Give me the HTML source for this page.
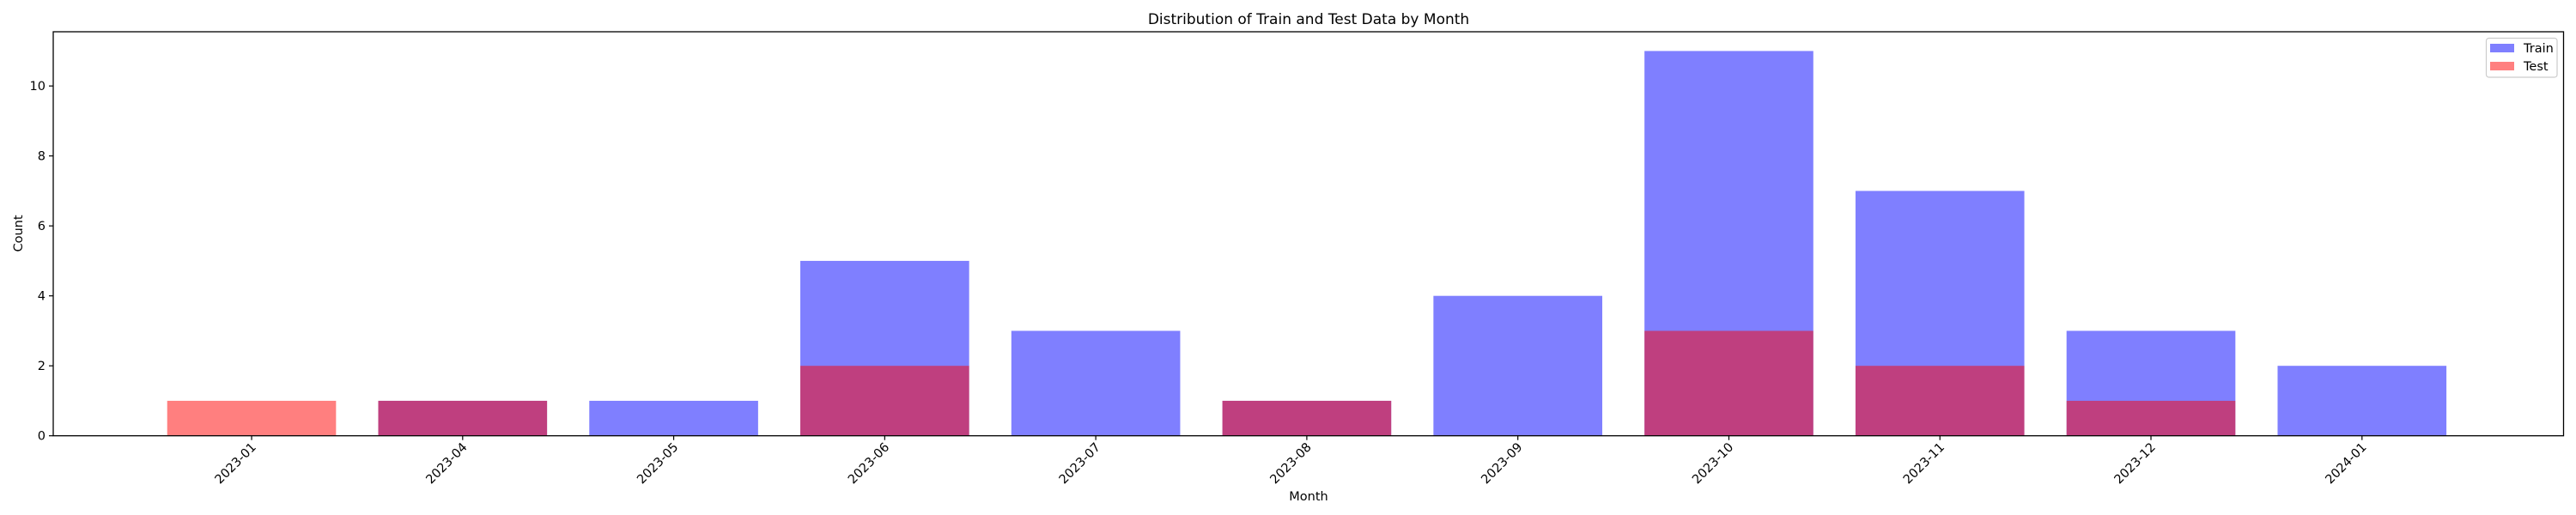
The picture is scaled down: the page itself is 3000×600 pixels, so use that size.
<!DOCTYPE html>
<html><head><meta charset="utf-8"><style>
body{margin:0;background:#fff;}
svg{display:block;font-family:"DejaVu Sans","Liberation Sans",sans-serif;}
</style></head><body>
<svg id="chart" width="3000" height="600" xmlns="http://www.w3.org/2000/svg">
<rect width="3000" height="600" fill="#fff"/>
<text x="1524" y="28" font-size="17" text-anchor="middle">Distribution of Train and Test Data by Month</text>
<text x="1524" y="583" font-size="14.5" text-anchor="middle">Month</text>
<text transform="translate(26,272) rotate(-90)" font-size="14.5" text-anchor="middle">Count</text>
<g id="bars"></g>
<g id="axes"></g>
<rect x="62" y="37" width="2923.5" height="470.7" fill="none" stroke="#000" stroke-width="1.3"/>
<g>
<rect x="2895.5" y="44.5" width="82.5" height="45.5" rx="3" fill="#fff" stroke="#ccc" stroke-width="1.2"/>
<rect x="2900" y="51" width="28" height="10" fill="#0000ff" fill-opacity="0.5"/>
<text x="2939" y="61" font-size="14.5">Train</text>
<rect x="2900" y="72" width="28" height="10" fill="#ff0000" fill-opacity="0.5"/>
<text x="2939" y="82" font-size="14.5">Test</text>
</g>
</svg>
<script>
const categories = ["2023-01","2023-04","2023-05","2023-06","2023-07","2023-08","2023-09","2023-10","2023-11","2023-12","2024-01"];
const trainValues = [0,1,1,5,3,1,4,11,7,3,2];
const testValues = [1,1,0,2,0,1,0,3,2,1,0];
const yTicks = [0,2,4,6,8,10];

const NS="http://www.w3.org/2000/svg";
const L=62,R=2985.5,T=37,B=507.7;
const xMin=-0.94,xMax=10.955;
const yMax=Math.max(...trainValues,...testValues)*1.05;
function xS(v){return L+(v-xMin)/(xMax-xMin)*(R-L);}
function yS(v){return B-v/yMax*(B-T);}
const bars=document.getElementById('bars'),axes=document.getElementById('axes');
function mk(tag,attrs,parent){const e=document.createElementNS(NS,tag);for(const k in attrs)e.setAttribute(k,attrs[k]);parent.appendChild(e);return e;}
function drawSeries(vals,color,name){
  vals.forEach((v,i)=>{
    if(v<=0)return;
    const x0=xS(i-0.4),x1=xS(i+0.4);
    const r=mk('rect',{x:x0,y:yS(v),width:x1-x0,height:B-yS(v),fill:color,'fill-opacity':0.5},bars);
    
    
  });
}
drawSeries(trainValues,'#0000ff','train');
drawSeries(testValues,'#ff0000','test');
yTicks.forEach(t=>{
  const y=yS(t);
  const l=mk('line',{x1:L-5,x2:L,y1:y,y2:y,stroke:'#000','stroke-width':1.2},axes);
  
  
  const tx=mk('text',{x:L-9,y:y+5,'font-size':14.5,'text-anchor':'end'},axes);
  tx.textContent=t;
  
  
});
categories.forEach((c,i)=>{
  const x=xS(i);
  const l=mk('line',{x1:x,x2:x,y1:B,y2:B+5,stroke:'#000','stroke-width':1.2},axes);
  
  
  const tx=mk('text',{transform:`translate(${x+6},${B+14}) rotate(-45)`,'font-size':14.5,'text-anchor':'end'},axes);
  tx.textContent=c;
  
  
});
</script>
</body></html>
